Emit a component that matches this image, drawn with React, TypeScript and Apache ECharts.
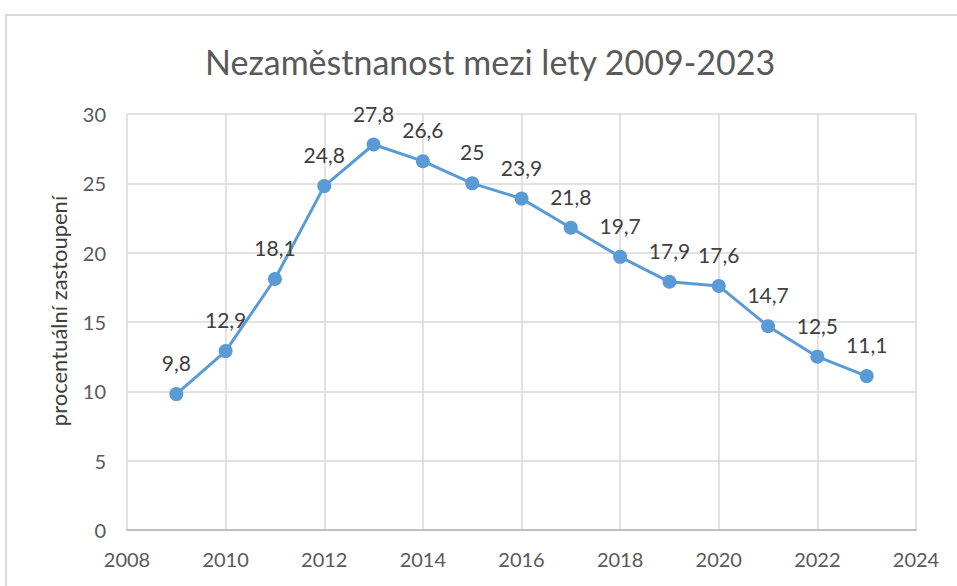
import React, { useEffect, useRef } from "react";
import * as echarts from "echarts";

const years = [2009, 2010, 2011, 2012, 2013, 2014, 2015, 2016, 2017, 2018, 2019, 2020, 2021, 2022, 2023];
const values = [9.8, 12.9, 18.1, 24.8, 27.8, 26.6, 25, 23.9, 21.8, 19.7, 17.9, 17.6, 14.7, 12.5, 11.1];
const titleText = "Nezaměstnanost mezi lety 2009-2023";
const yAxisName = "procentuální zastoupení";

const FONT = "Lato, 'Open Sans', sans-serif";

export default function App() {
  const ref = useRef<HTMLDivElement>(null);
  useEffect(() => {
    if (!ref.current) return;
    const chart = echarts.init(ref.current, undefined, { renderer: "svg" });
    chart.setOption({
      animation: false,
      backgroundColor: "#ffffff",
      title: {
        text: titleText,
        left: 200,
        padding: 5,
        top: 39,
        textStyle: { fontFamily: FONT, fontSize: 34, fontWeight: "normal", color: "#595959" },
      },
      graphic: [
        {
          type: "rect",
          shape: { x: 6, y: 15, width: 1100, height: 700 },
          style: { fill: "none", stroke: "#d9d9d9", lineWidth: 2 },
          silent: true,
          z: -10,
        },
      ],
      grid: { left: 127, right: 41, top: 114, bottom: 56, containLabel: false },
      xAxis: {
        type: "value",
        min: 2008,
        max: 2024,
        interval: 2,
        axisLine: { show: true, lineStyle: { color: "#bfbfbf", width: 2 } },
        axisTick: { show: false },
        axisLabel: {
          fontFamily: FONT,
          fontSize: 20,
          color: "#595959",
          margin: 19,
          formatter: (v: number) => String(v),
        },
        splitLine: { show: true, lineStyle: { color: "#d9d9d9", width: 1.5 } },
      },
      yAxis: {
        type: "value",
        min: 0,
        max: 30,
        interval: 5,
        name: yAxisName,
        nameLocation: "middle",
        nameGap: 58,
        nameTextStyle: { fontFamily: FONT, fontSize: 22, color: "#404040", padding: [0, 0, 0, 22] },
        axisLine: { show: false },
        axisTick: { show: false },
        axisLabel: { fontFamily: FONT, fontSize: 20, color: "#595959", margin: 21 },
        splitLine: { show: true, lineStyle: { color: "#d9d9d9", width: 1.5 } },
      },
      series: [
        {
          type: "line",
          data: years.map((y, i) => [y, values[i]]),
          symbol: "circle",
          symbolSize: 14,
          lineStyle: { color: "#5b9bd5", width: 3 },
          itemStyle: { color: "#5b9bd5" },
          label: {
            show: true,
            position: "top",
            distance: 14,
            fontFamily: FONT,
            fontSize: 21,
            color: "#404040",
            formatter: (p: any) => String(p.value[1]).replace(".", ","),
          },
        },
      ],
    });
    return () => chart.dispose();
  }, []);
  return (
    <div
      ref={ref}
      style={{ position: "absolute", left: 0, top: 0, width: 957, height: 586 }}
    />
  );
}
